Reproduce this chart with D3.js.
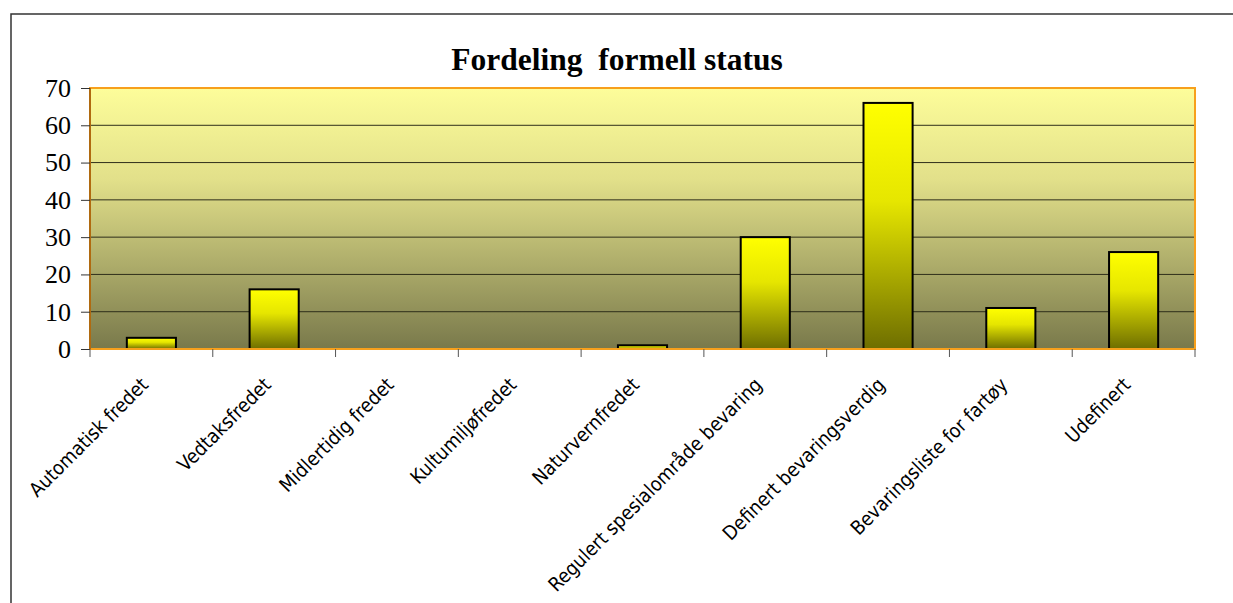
<!DOCTYPE html>
<html>
<head>
<meta charset="utf-8">
<script src="https://cdn.jsdelivr.net/npm/d3@7"></script>
<style>
  body { margin: 0; background: #fff; }
  svg { display: block; }
</style>
</head>
<body>
<svg id="chart"></svg>
<script>
const categories = ["Automatisk fredet", "Vedtaksfredet", "Midlertidig fredet", "Kultumiljøfredet",
  "Naturvernfredet", "Regulert spesialområde bevaring", "Definert bevaringsverdig",
  "Bevaringsliste for fartøy", "Udefinert"]
const values = [3, 16, 0, 0, 1, 30, 66, 11, 26]
const yTicks = [0, 10, 20, 30, 40, 50, 60, 70]
const title = "Fordeling  formell status"

const width = 1233, height = 603
const plot = { left: 90, top: 88, right: 1195, bottom: 349 }

const svg = d3.select("#chart").attr("width", width).attr("height", height)

// gradients
const defs = svg.append("defs")
const bg = defs.append("linearGradient").attr("id", "bg").attr("x1", 0).attr("y1", 0).attr("x2", 0).attr("y2", 1)
bg.append("stop").attr("offset", "0%").attr("stop-color", "#fdfd9a")
bg.append("stop").attr("offset", "35%").attr("stop-color", "#e2e08a")
bg.append("stop").attr("offset", "100%").attr("stop-color", "#79794b")
const barG = defs.append("linearGradient").attr("id", "barg").attr("x1", 0).attr("y1", 0).attr("x2", 0).attr("y2", 1)
barG.append("stop").attr("offset", "0%").attr("stop-color", "#ffff00")
barG.append("stop").attr("offset", "40%").attr("stop-color", "#e6e600")
barG.append("stop").attr("offset", "100%").attr("stop-color", "#6e6e00")

// outer frame
svg.append("rect").attr("x", 11).attr("y", 14).attr("width", 1240).attr("height", 600)
  .attr("fill", "none").attr("stroke", "#333").attr("stroke-width", 1.5)

let x = d3.scaleBand().domain(categories).range([plot.left, plot.right]).paddingInner(0.6).paddingOuter(0.3)
let y = d3.scaleLinear().domain([0, 70]).range([plot.bottom, plot.top])

svg.append("rect").attr("x", plot.left).attr("y", plot.top)
  .attr("width", plot.right - plot.left).attr("height", plot.bottom - plot.top)
  .attr("fill", "url(#bg)")

// grid
svg.append("g").selectAll("line").data(yTicks.filter(d => d > 0 && d < 70)).enter().append("line")
  .attr("x1", plot.left).attr("x2", plot.right)
  .attr("y1", d => y(d)).attr("y2", d => y(d))
  .attr("stroke", "#2e2e1a").attr("stroke-width", 1)

// bars
svg.append("g").selectAll("rect").data(values).enter().append("rect")
  .attr("x", (d, i) => x(categories[i]))
  .attr("y", d => y(d))
  .attr("width", x.bandwidth())
  .attr("height", d => plot.bottom - y(d))
  .attr("fill", "url(#barg)")
  .attr("stroke", d => d > 0 ? "#000" : "none")
  .attr("stroke-width", 2)

// plot border
svg.append("rect").attr("x", plot.left).attr("y", plot.top)
  .attr("width", plot.right - plot.left).attr("height", plot.bottom - plot.top)
  .attr("fill", "none").attr("stroke", "#f7a01c").attr("stroke-width", 2)
svg.append("line").attr("x1", plot.left).attr("x2", plot.left).attr("y1", plot.top).attr("y2", plot.bottom)
  .attr("stroke", "#b06a10").attr("stroke-width", 2)

// y axis
const yAxis = svg.append("g").attr("transform", `translate(${plot.left},0)`)
  .call(d3.axisLeft(y).tickValues(yTicks).tickSize(9).tickPadding(10))
yAxis.select(".domain").remove()
yAxis.selectAll(".tick line").attr("stroke", "#333")
yAxis.selectAll("text").attr("font-family", "'Liberation Serif', 'Times New Roman', serif")
  .attr("font-size", 26).attr("fill", "#000")

// x axis ticks at category boundaries
const step = x.step()
const bounds = d3.range(categories.length + 1).map(i => plot.left + i * step)
svg.append("g").selectAll("line").data(bounds).enter().append("line")
  .attr("x1", d => d).attr("x2", d => d).attr("y1", plot.bottom).attr("y2", plot.bottom + 8)
  .attr("stroke", "#555").attr("stroke-width", 1)

// x labels
svg.append("g").selectAll("text").data(categories).enter().append("text")
  .attr("transform", d => `translate(${x(d) + x.bandwidth() / 2 - 2},${plot.bottom + 37}) rotate(-45)`)
  .attr("text-anchor", "end")
  .attr("font-family", "'DejaVu Sans Condensed', 'DejaVu Sans', sans-serif")
  .attr("font-size", 19.6)
  .attr("fill", "#000")
  .text(d => d)

svg.append("text").attr("x", 617).attr("y", 70).attr("text-anchor", "middle")
  .attr("font-family", "'Liberation Serif', 'Times New Roman', serif")
  .attr("font-weight", "bold").attr("font-size", 31.5)
  .style("white-space", "pre")
  .text(title)
</script>
</body>
</html>
